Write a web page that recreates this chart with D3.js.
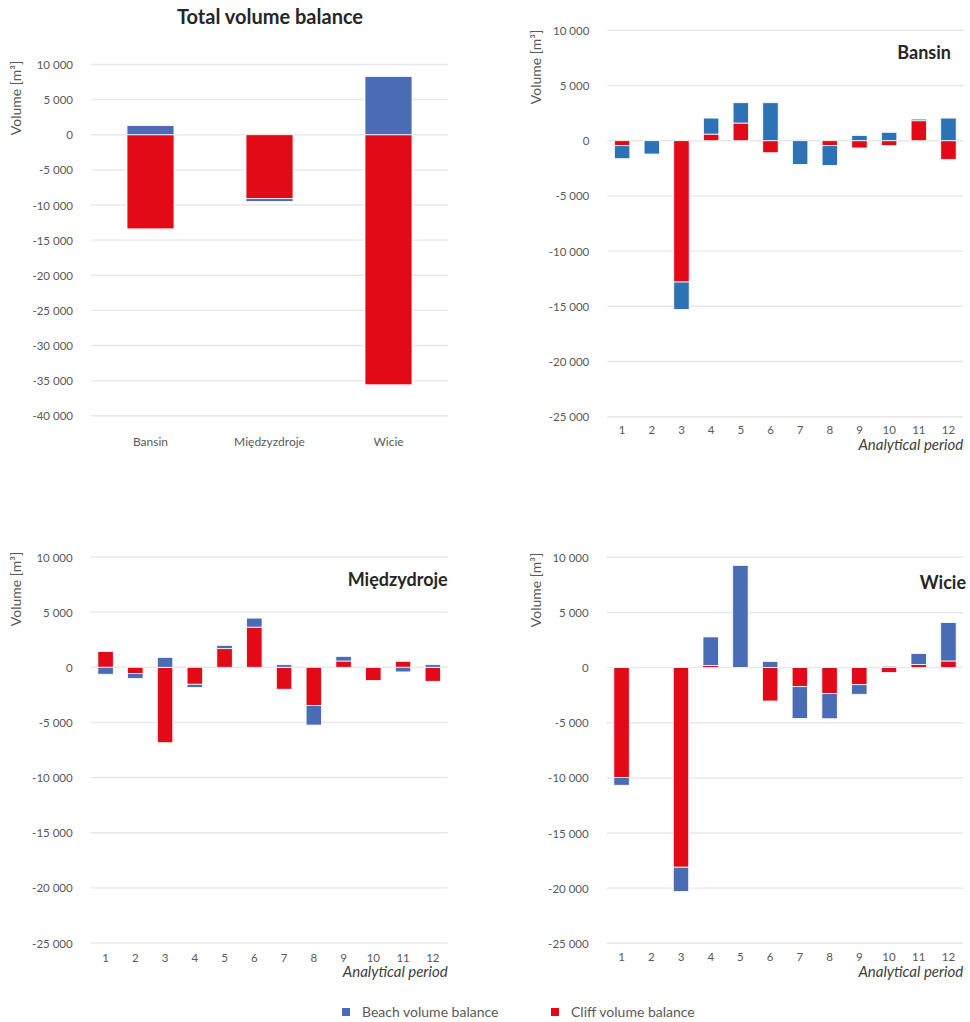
<!DOCTYPE html>
<html>
<head>
<meta charset="utf-8">
<script src="https://cdn.jsdelivr.net/npm/d3@7"></script>
<style>
  html, body { margin: 0; padding: 0; background: #fff; }
  svg { display: block; font-family: Lato, "Open Sans", sans-serif; }
</style>
</head>
<body>
<svg id="chart" width="970" height="1022"></svg>
<script>
// ---- data (m³) ----
const sites = ["Bansin", "Międzyzdroje", "Wicie"];
const totalBeach = [1300, -400, 8300];
const totalCliff = [-13400, -9100, -35600];

const periods = ["1", "2", "3", "4", "5", "6", "7", "8", "9", "10", "11", "12"];

const bansinBeach = [-1180, -1210, -2500, 1450, 1840, 3440, -2150, -1790, 480, 760, 150, 2050];
const bansinCliff = [-450, 0, -12800, 600, 1600, -1090, 100, -450, -660, -450, 1810, -1690];

const miedzyBeach = [-630, -450, 900, -300, 300, 820, 240, -1780, 420, 80, -420, 240];
const miedzyCliff = [1420, -570, -6840, -1540, 1690, 3640, -1990, -3460, 570, -1200, 540, -1270];

const wicieBeach = [-700, 0, -2200, 2600, 9270, 550, -2880, -2280, -870, 120, 1000, 3490];
const wicieCliff = [-9970, 0, -18100, 180, 0, -3030, -1730, -2360, -1550, -450, 270, 600];

const totalTicks = [10000, 5000, 0, -5000, -10000, -15000, -20000, -25000, -30000, -35000, -40000];
const periodTicks = [10000, 5000, 0, -5000, -10000, -15000, -20000, -25000];

const legendItems = ["Beach volume balance", "Cliff volume balance"];

// ---- styling ----
const RED = "#e30a17";
const BLUE = "#4a6cb5";
const BLUE_BANSIN = "#2e72b6";
const GRID = "#e8e8e8";
const TICK_TXT = "#595959";
const TITLE_TXT = "#262626";

const locale = d3.formatLocale({ decimal: ",", thousands: " ", grouping: [3], currency: ["", ""], minus: "-" });
const fmt = locale.format(",d");

const svg = d3.select("#chart");

function drawPanel(cfg) {
  const g = svg.append("g");
  const x = d3.scaleBand()
    .domain(cfg.categories)
    .range([cfg.x0, cfg.x1])
    .paddingInner(cfg.pad)
    .paddingOuter(cfg.pad / 2);
  const y = d3.scaleLinear()
    .domain([cfg.ticks[cfg.ticks.length - 1], cfg.ticks[0]])
    .range([cfg.yBottom, cfg.yTop]);

  // gridlines
  g.append("g").selectAll("line")
    .data(cfg.ticks)
    .join("line")
    .attr("x1", cfg.x0).attr("x2", cfg.x1)
    .attr("y1", d => y(d)).attr("y2", d => y(d))
    .attr("stroke", GRID).attr("stroke-width", 1.4);

  // y tick labels
  const yAxis = d3.axisLeft(y).tickValues(cfg.ticks).tickFormat(fmt).tickSize(0).tickPadding(0);
  const ya = g.append("g").attr("transform", `translate(${cfg.x0 - 18},0)`).call(yAxis);
  ya.select(".domain").remove();
  ya.selectAll("text")
    .attr("fill", TICK_TXT)
    .style("font-size", "11.5px")
    .style("font-family", "Lato, sans-serif")
    .attr("dy", "0.35em");

  // x category labels
  const xAxis = d3.axisBottom(x).tickSize(0).tickPadding(0);
  const xa = g.append("g").attr("transform", `translate(0,${cfg.yBottom + cfg.xLabelOffset})`).call(xAxis);
  xa.select(".domain").remove();
  xa.selectAll("text")
    .attr("fill", TICK_TXT)
    .attr("dy", "0.35em")
    .attr("y", 0)
    .style("font-size", cfg.xFont)
    .style("font-family", "Lato, sans-serif");

  // stacked bars: cliff next to zero, beach stacked beyond it
  const rows = cfg.categories.map((c, i) => ({ cat: c, cliff: cfg.cliff[i], beach: cfg.beach[i] }));
  const series = d3.stack().keys(["cliff", "beach"]).offset(d3.stackOffsetDiverging)(rows);
  const colors = { cliff: RED, beach: cfg.beachColor };

  g.append("g").selectAll("g")
    .data(series)
    .join("g")
    .attr("fill", s => colors[s.key])
    .selectAll("rect")
    .data(s => s)
    .join("rect")
    .attr("x", d => x(d.data.cat))
    .attr("width", x.bandwidth())
    .attr("y", d => y(Math.max(d[0], d[1])))
    .attr("height", d => Math.abs(y(d[0]) - y(d[1])))
    .attr("stroke", "#ffffff")
    .attr("stroke-width", 0.8);

  // y axis title
  g.append("text")
    .attr("transform", `translate(${cfg.yTitleX},${cfg.yTitleY}) rotate(-90)`)
    .attr("text-anchor", "middle")
    .attr("dy", "0.35em")
    .attr("fill", TICK_TXT)
    .style("font-size", "14px")
    .text("Volume [m³]");

  if (cfg.title) {
    g.append("text")
      .attr("x", cfg.titleX).attr("y", cfg.titleY)
      .attr("text-anchor", cfg.titleAnchor)
      .attr("dy", "0.35em")
      .attr("fill", TITLE_TXT)
      .style("font-size", cfg.titleSize)
      .style("font-weight", "bold")
      .text(cfg.title);
  }

  if (cfg.xTitle) {
    g.append("text")
      .attr("x", cfg.x1).attr("y", cfg.yBottom + 28.5)
      .attr("text-anchor", "end")
      .attr("dy", "0.35em")
      .attr("fill", "#404040")
      .style("font-size", "15px")
      .style("font-style", "italic")
      .text(cfg.xTitle);
  }
}

// Total volume balance per site
drawPanel({
  categories: sites, beach: totalBeach, cliff: totalCliff, beachColor: BLUE,
  ticks: totalTicks, x0: 91, x1: 448, yTop: 64.5, yBottom: 415.7, pad: 0.605,
  xLabelOffset: 26.5, xFont: "12px",
  yTitleX: 16, yTitleY: 98,
  title: "Total volume balance", titleX: 270, titleY: 17, titleAnchor: "middle", titleSize: "20px"
});

// Bansin
drawPanel({
  categories: periods, beach: bansinBeach, cliff: bansinCliff, beachColor: BLUE_BANSIN,
  ticks: periodTicks, x0: 607.3, x1: 963.3, yTop: 30.3, yBottom: 416.7, pad: 0.48,
  xLabelOffset: 13, xFont: "11.5px",
  yTitleX: 536, yTitleY: 67,
  title: "Bansin", titleX: 951, titleY: 53, titleAnchor: "end", titleSize: "18px",
  xTitle: "Analytical period"
});

// Międzyzdroje
drawPanel({
  categories: periods, beach: miedzyBeach, cliff: miedzyCliff, beachColor: BLUE,
  ticks: periodTicks, x0: 90.7, x1: 447.7, yTop: 557, yBottom: 943, pad: 0.48,
  xLabelOffset: 14.5, xFont: "11.5px",
  yTitleX: 16, yTitleY: 589,
  title: "Międzydroje", titleX: 447.7, titleY: 580, titleAnchor: "end", titleSize: "18px",
  xTitle: "Analytical period"
});

// Wicie
drawPanel({
  categories: periods, beach: wicieBeach, cliff: wicieCliff, beachColor: BLUE,
  ticks: periodTicks, x0: 606.7, x1: 963.3, yTop: 557.3, yBottom: 943.3, pad: 0.48,
  xLabelOffset: 14, xFont: "11.5px",
  yTitleX: 536, yTitleY: 590,
  title: "Wicie", titleX: 966, titleY: 582.7, titleAnchor: "end", titleSize: "18px",
  xTitle: "Analytical period"
});

// legend
const legend = svg.append("g").attr("transform", "translate(0,1012)");
const legendColors = [BLUE, RED];
const legendX = [342, 551];
legendItems.forEach((label, i) => {
  legend.append("rect")
    .attr("x", legendX[i]).attr("y", -4)
    .attr("width", 8).attr("height", 8)
    .attr("fill", legendColors[i]);
  legend.append("text")
    .attr("x", legendX[i] + 20).attr("y", 0)
    .attr("dy", "0.35em")
    .attr("fill", TICK_TXT)
    .style("font-size", "14px")
    .text(label);
});
</script>
</body>
</html>
